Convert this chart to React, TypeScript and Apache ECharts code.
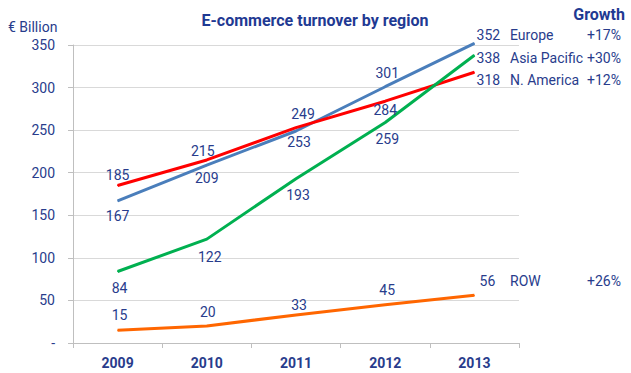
import React, { useEffect, useRef } from "react";
import * as echarts from "echarts";

const years = ["2009", "2010", "2011", "2012", "2013"];
const europe = [167, 209, 249, 301, 352];
const nAmerica = [185, 215, 253, 284, 318];
const asiaPacific = [84, 122, 193, 259, 338];
const row = [15, 20, 33, 45, 56];
const regionNames = ["Europe", "Asia Pacific", "N. America", "ROW"];
const growth = ["+17%", "+30%", "+12%", "+26%"];

// label layout (pixel offsets from each point)
const euOff = [[0, 15], [0, 13], [7, -17], [2, -14], [14, -8]];
const naOff = [[0, -10], [-4, -9], [3, 14], [0, 9], [14, 8]];
const apOff = [[2, 17], [3, 18], [2, 16], [2, 17], [14, 3]];
const rowOff = [[2, -15], [1, -14], [3, -10], [2, -15], [13, -14]];

const TEXT = "#283C8C";
const FONT = "Roboto";

function mkSeries(name: string, values: number[], offs: number[][], color: string) {
  return {
    name,
    type: "line",
    clip: false,
    data: values.map((v, i) => ({
      value: v,
      label: { offset: offs[i] },
    })),
    symbol: "circle",
    symbolSize: 1,
    itemStyle: { color },
    lineStyle: { color, width: 3 },
    label: {
      show: true,
      position: "inside",
      color: TEXT,
      fontFamily: FONT,
      fontSize: 14,
    },
  };
}

export default function App() {
  const ref = useRef<HTMLDivElement>(null);
  useEffect(() => {
    if (!ref.current) return;
    const chart = echarts.init(ref.current, null, { renderer: "svg" });
    const nameYs = [35, 58, 80, 281];
    chart.setOption({
      animation: false,
      backgroundColor: "#ffffff",
      textStyle: { fontFamily: FONT },
      grid: { left: 73, top: 45, width: 446, height: 298, containLabel: false },
      xAxis: {
        type: "category",
        data: years,
        boundaryGap: true,
        axisLine: { lineStyle: { color: "#BFBFBF", width: 1 } },
        axisTick: { show: true, length: 5, lineStyle: { color: "#BFBFBF" } },
        axisLabel: {
          color: TEXT,
          fontWeight: "bold",
          fontSize: 14,
          fontFamily: FONT,
          margin: 13,
        },
      },
      yAxis: {
        type: "value",
        min: 0,
        max: 350,
        interval: 50,
        axisLine: { show: true, lineStyle: { color: "#BFBFBF", width: 1 } },
        axisTick: { show: true, length: 5, lineStyle: { color: "#BFBFBF" } },
        splitLine: { lineStyle: { color: "#D9D9D9", width: 1 } },
        axisLabel: {
          color: TEXT,
          fontSize: 14,
          fontFamily: FONT,
          margin: 18,
          formatter: (v: number) => (v === 0 ? "-" : String(v)),
        },
      },
      series: [
        mkSeries("Europe", europe, euOff, "#4A7EBB"),
        mkSeries("N. America", nAmerica, naOff, "#FF0000"),
        mkSeries("Asia Pacific", asiaPacific, apOff, "#00B050"),
        mkSeries("ROW", row, rowOff, "#FF6600"),
      ],
      graphic: [
        {
          type: "text",
          x: 315,
          y: 20,
          style: {
            text: "E-commerce turnover by region",
            fill: "#1F3A93",
            font: `bold 16px ${FONT}`,
            align: "center",
            verticalAlign: "middle",
          },
        },
        {
          type: "text",
          x: 8,
          y: 27,
          style: {
            text: "€ Billion",
            fill: TEXT,
            font: `14px ${FONT}`,
            align: "left",
            verticalAlign: "middle",
          },
        },
        {
          type: "text",
          x: 625,
          y: 14,
          style: {
            text: "Growth",
            fill: "#1F3A93",
            font: `bold 16px ${FONT}`,
            align: "right",
            verticalAlign: "middle",
          },
        },
        ...regionNames.map((n, i) => ({
          type: "text",
          x: 510,
          y: nameYs[i],
          style: {
            text: n,
            fill: TEXT,
            font: `14px ${FONT}`,
            align: "left",
            verticalAlign: "middle",
          },
        })),
        ...growth.map((g, i) => ({
          type: "text",
          x: 621,
          y: nameYs[i],
          style: {
            text: g,
            fill: TEXT,
            font: `14px ${FONT}`,
            align: "right",
            verticalAlign: "middle",
          },
        })),
      ],
    });
    return () => chart.dispose();
  }, []);
  return (
    <div
      ref={ref}
      style={{ position: "fixed", left: 0, top: 0, width: 631, height: 373 }}
    />
  );
}
